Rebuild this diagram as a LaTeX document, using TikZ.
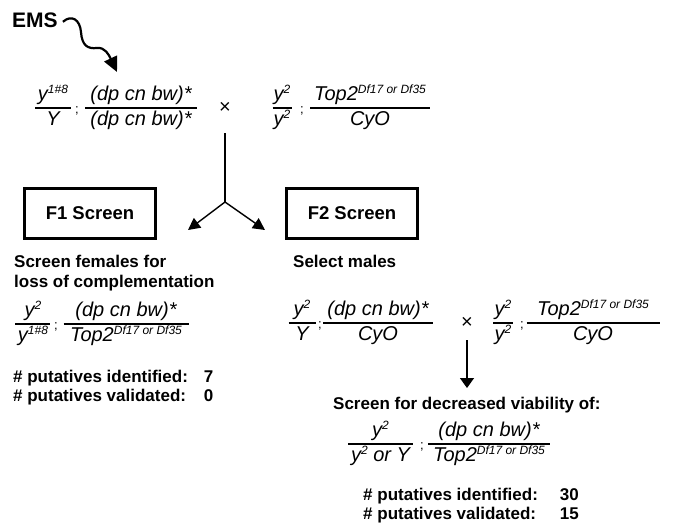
\documentclass[tikz,border=0pt]{standalone}
\usepackage{fontspec}
\setmainfont{Liberation Sans}
\usetikzlibrary{arrows.meta}

% raised superscript for allele names
\newcommand{\sps}[1]{\raisebox{6.5pt}{\fontsize{12}{12}\selectfont #1}}
% genotype fraction: width, numerator, denominator
\newcommand{\gfrac}[3]{{\fontsize{20}{24}\selectfont\itshape
  \setlength{\arrayrulewidth}{1.3pt}%
  \begin{tabular}{@{}c@{}}\makebox[#1]{#2}\\\hline\makebox[#1]{#3}\end{tabular}}}

\tikzset{
  lbl/.style={font=\fontsize{17}{20}\selectfont\bfseries, inner sep=0pt, anchor=base west},
  geno/.style={inner sep=0pt},
  semi/.style={font=\fontsize{13}{13}\selectfont, inner sep=0pt, anchor=base},
  cross/.style={font=\fontsize{20}{20}\selectfont, inner sep=0pt},
  screenbox/.style={draw, line width=2.8pt, minimum width=131pt, minimum height=50pt,
    inner sep=0pt, font=\fontsize{18.5}{20}\selectfont\bfseries},
  counts/.style={font=\fontsize{17}{19.5}\selectfont\bfseries, inner sep=0pt, anchor=north west},
  link/.style={line width=1.4pt},
  splittip/.style={-{Triangle[length=12pt,width=12pt]}},
  downtip/.style={-{Triangle[length=10pt,width=14pt]}},
  squig/.style={line width=2.2pt, -{Triangle[length=15pt,width=14pt]}},
}

\begin{document}
\begin{tikzpicture}[x=1pt,y=-1pt]
\useasboundingbox (0,0) rectangle (678,523);

% mutagen
\node[lbl, font=\fontsize{21}{22}\selectfont\bfseries] (ems) at (12,27) {EMS};
\coordinate (ems-tip) at (117,72);
\draw[squig] ([xshift=5pt,yshift=-2pt]ems.east)
  .. controls (72,14) and (80,20) .. (81,32)
  .. controls (82,46) and (88,49) .. (97,48)
  .. controls (105,47) and (109,55) .. (ems-tip);

% parental cross
\node[geno] (p1a) at (53,108) {\gfrac{36pt}{y\sps{1\#8}}{Y}};
\node[semi] (p1s1) at (77,113) {;};
\node[geno] (p1b) at (141,108) {\gfrac{112pt}{(dp cn bw)*}{(dp cn bw)*}};
\node[cross] (x1) at (225,108) {×};
\node[geno] (p1c) at (282,108) {\gfrac{19pt}{y\sps{2}}{y\sps{2}}};
\node[semi] (p1s2) at (302,113) {;};
\node[geno] (p1d) at (370,108) {\gfrac{120pt}{Top2\sps{Df17 or Df35}}{CyO}};

% split into the two screens
\coordinate (x1-stem) at (225,133);
\coordinate (junc) at (225,202);
\coordinate (f1-tip) at (188,230);
\coordinate (f2-tip) at (265,230);
\draw[link] (x1-stem) -- (junc);
\draw[link, splittip] (junc) -- (f1-tip);
\draw[link, splittip] (junc) -- (f2-tip);

\node[screenbox] (f1) at (90,213.5) {F1 Screen};
\node[screenbox] (f2) at (352,213.5) {F2 Screen};

% F1 branch
\node[lbl] (f1a) at (14,267) {Screen females for};
\node[lbl] (f1b) at (14,287) {loss of complementation};
\node[geno] (f1g1) at (33,324) {\gfrac{35pt}{y\sps{2}}{y\sps{1\#8}}};
\node[semi] (f1s) at (56,329) {;};
\node[geno] (f1g2) at (126,324) {\gfrac{125pt}{(dp cn bw)*}{Top2\sps{Df17 or Df35}}};
\node[counts] (f1c) at (13,368.3) {\begin{tabular}{@{}l@{\hspace{16pt}}l@{}}
  \# putatives identified: & 7\\
  \# putatives validated: & 0\end{tabular}};

% F2 branch
\node[lbl] (f2a) at (293,267) {Select males};
\node[geno] (f2g1) at (302,323) {\gfrac{27pt}{y\sps{2}}{Y}};
\node[semi] (f2s1) at (320,328) {;};
\node[geno] (f2g2) at (378,323) {\gfrac{110pt}{(dp cn bw)*}{CyO}};
\node[cross] (x2) at (467,323) {×};
\node[geno] (f2g3) at (503,323) {\gfrac{20pt}{y\sps{2}}{y\sps{2}}};
\node[semi] (f2s2) at (522,328) {;};
\node[geno] (f2g4) at (593,323) {\gfrac{133pt}{Top2\sps{Df17 or Df35}}{CyO}};

\coordinate (x2-stem) at (467,340);
\coordinate (via-tip) at (467,388);
\draw[link, downtip] (x2-stem) -- (via-tip);

\node[lbl] (via) at (333,409) {Screen for decreased viability of:};
\node[geno] (f3g1) at (380.5,444) {\gfrac{65pt}{y\sps{2}}{y\sps{2} or Y}};
\node[semi] (f3s) at (422,449) {;};
\node[geno] (f3g2) at (489,444) {\gfrac{122pt}{(dp cn bw)*}{Top2\sps{Df17 or Df35}}};
\node[counts] (f2c) at (363,486.3) {\begin{tabular}{@{}l@{\hspace{22pt}}l@{}}
  \# putatives identified: & 30\\
  \# putatives validated: & 15\end{tabular}};
\end{tikzpicture}
\end{document}
